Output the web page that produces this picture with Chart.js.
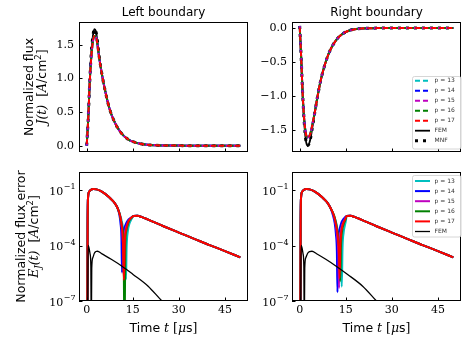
<!DOCTYPE html>
<html>
<head>
<meta charset="utf-8">
<script src="https://cdn.jsdelivr.net/npm/chart.js@4.4.1/dist/chart.umd.min.js"></script>
<style>
  body { margin: 0; background: #fff; }
  .wrap { position: relative; width: 462px; height: 339px; }
  .wrap canvas { position: absolute; left: 0; top: 0; }
</style>
</head>
<body>
<div class="wrap">
  <canvas id="fluxLeft" width="462" height="339"></canvas>
  <canvas id="fluxRight" width="462" height="339"></canvas>
  <canvas id="errLeft" width="462" height="339"></canvas>
  <canvas id="errRight" width="462" height="339"></canvas>
</div>
<script>
// ---- data -------------------------------------------------------------
const pLabels = ['p = 13', 'p = 14', 'p = 15', 'p = 16', 'p = 17'];
const pColors = ['#00bfbf', '#0000ff', '#bf00bf', '#008000', '#ff0000'];

const xTicks         = [0, 15, 30, 45];
const fluxLeftTicks  = [0, 0.5, 1.0, 1.5];
const fluxRightTicks = [-1.5, -1.0, -0.5, 0];
const errTicks       = [1e-7, 1e-4, 1e-1];

// normalized flux J(t)
const fluxT        = [0, 0.5, 1, 1.5, 2, 2.5, 3, 3.5, 4, 5, 6, 7, 8, 9, 10, 12, 14, 16, 18, 20, 25, 30, 35, 40, 45, 50];
const fluxLeftFEM  = [0, 0.4, 0.95, 1.38, 1.62, 1.73, 1.7, 1.55, 1.35, 1.05, 0.82, 0.62, 0.47, 0.36, 0.27, 0.15, 0.08, 0.045, 0.024, 0.012, 0.003, 0.001, 0, 0, 0, 0];
const fluxLeftP    = [0, 0.4, 0.95, 1.32, 1.54, 1.63, 1.62, 1.5, 1.33, 1.05, 0.82, 0.62, 0.47, 0.36, 0.27, 0.15, 0.08, 0.045, 0.024, 0.012, 0.003, 0.001, 0, 0, 0, 0];
const fluxRightFEM = [0.03, -0.45, -1.0, -1.4, -1.65, -1.73, -1.71, -1.63, -1.5, -1.22, -0.96, -0.74, -0.57, -0.43, -0.32, -0.17, -0.085, -0.04, -0.018, -0.008, -0.002, 0, 0, 0, 0, 0];
const fluxRightP   = [0.03, -0.45, -1.0, -1.36, -1.55, -1.61, -1.6, -1.55, -1.45, -1.22, -0.96, -0.74, -0.57, -0.43, -0.32, -0.17, -0.085, -0.04, -0.018, -0.008, -0.002, 0, 0, 0, 0, 0];

// flux error E_J(t): first lobe, dip near t = 12, second lobe / tail
const errLobeT = [0.2, 0.3, 0.45, 0.8, 1.3, 2.2, 3.2, 4.5, 6, 7.5, 9, 10];
const errLobeY = [1e-9, 1e-3, 4e-2, 8e-2, 1.0e-1, 1.12e-1, 1.08e-1, 9e-2, 6.2e-2, 3.8e-2, 2.1e-2, 1.1e-2];
const errTailT = [15.3, 16.5, 18, 20, 25, 30, 35, 40, 45, 50];
const errTailY = [3.9e-3, 4e-3, 3.4e-3, 2.5e-3, 1.1e-3, 5e-4, 2.3e-4, 1.05e-4, 5e-5, 2.3e-5];

const dipLeftT = [
  [10.9, 11.6, 12.2, 12.6, 12.8, 13.0, 13.4, 13.9, 14.6],
  [10.6, 11.0, 11.3, 11.5, 11.7, 12.1, 12.7, 13.4, 14.3],
  [10.8, 11.4, 11.8, 12.0, 12.2, 12.6, 13.1, 13.7, 14.4],
  [10.8, 11.5, 12.0, 12.3, 12.6, 12.9, 13.3, 13.8, 14.5],
  [10.8, 11.4, 11.8, 12.1, 12.4, 12.8, 13.2, 13.7, 14.4],
];
const dipLeftY = [
  [4.5e-3, 1.5e-3, 3e-4, 5e-5, 1.5e-6, 8e-5, 6e-4, 1.5e-3, 2.7e-3],
  [5e-3, 1.6e-3, 3e-4, 3.5e-6, 1.2e-4, 6.5e-4, 1.4e-3, 2.3e-3, 3.1e-3],
  [4.5e-3, 1.2e-3, 1.5e-4, 4e-6, 1.5e-4, 6.5e-4, 1.3e-3, 2.2e-3, 3.1e-3],
  [4.5e-3, 1.1e-3, 1.2e-4, 1e-9, 1.3e-4, 6e-4, 1.2e-3, 2.1e-3, 3e-3],
  [4.5e-3, 1.2e-3, 1.5e-4, 1.4e-6, 1.5e-4, 6.5e-4, 1.3e-3, 2.2e-3, 3.1e-3],
];
const dipRightT = [
  [11.2, 12.0, 12.7, 13.3, 13.7, 13.95, 14.3, 14.7, 15.0],
  [10.8, 11.4, 11.8, 12.1, 12.3, 12.5, 12.9, 13.5, 14.3],
  [11.0, 11.7, 12.2, 12.6, 12.8, 13.0, 13.4, 14.0, 14.7],
  [11.2, 11.9, 12.5, 12.95, 13.2, 13.45, 13.8, 14.3, 14.9],
  [11.1, 11.8, 12.4, 12.8, 13.0, 13.25, 13.6, 14.1, 14.8],
];
const dipRightY = [
  [4e-3, 1.4e-3, 2.5e-4, 3e-5, 6e-7, 8e-5, 5e-4, 1.2e-3, 2e-3],
  [4.5e-3, 1.6e-3, 4e-4, 5e-5, 3e-7, 1.2e-4, 6.5e-4, 1.6e-3, 2.8e-3],
  [4.5e-3, 1.5e-3, 3e-4, 3e-5, 5e-7, 1e-4, 6e-4, 1.5e-3, 2.6e-3],
  [4.2e-3, 1.4e-3, 3e-4, 3e-5, 1.2e-6, 1e-4, 6e-4, 1.4e-3, 2.5e-3],
  [4.3e-3, 1.4e-3, 3e-4, 3e-5, 1.7e-6, 1e-4, 6e-4, 1.5e-3, 2.6e-3],
];

const errLeftFEMT  = [0.3, 0.42, 0.5, 0.8, 1.1, 1.35, 1.5, 1.65, 2.0, 2.5, 3.0, 3.5, 5, 8, 11.6, 15, 20, 24.5, 28];
const errLeftFEM   = [1e-9, 1e-5, 1e-4, 7e-5, 3.5e-5, 8e-6, 1e-9, 6e-6, 2.2e-5, 3.8e-5, 4.7e-5, 4.9e-5, 3.5e-5, 1.8e-5, 7.4e-6, 2.8e-6, 6.3e-7, 1e-7, 3e-8];
const errRightFEMT = [0.3, 0.4, 0.5, 0.8, 1.1, 1.35, 1.5, 1.65, 2.0, 2.6, 3.2, 4.0, 5.5, 8.5, 12, 15.5, 20.5, 25, 28];
const errRightFEM  = [1e-9, 1e-5, 1e-4, 7e-5, 3.5e-5, 8e-6, 1e-9, 6e-6, 2.2e-5, 3.8e-5, 4.7e-5, 4.9e-5, 3.6e-5, 1.8e-5, 7.4e-6, 2.8e-6, 6.3e-7, 1e-7, 3e-8];

// ---- style ------------------------------------------------------------
const W = 462, H = 339;
const COLS = [[79, 248], [292, 461]];
const ROWS = [[22, 152], [172, 301]];
const AXIS_W = 40, AXIS_H = 20;
const SERIF = '"DejaVu Serif"';
const SANS  = '"DejaVu Sans"';
const F_TXT  = `12.5px ${SANS}`;
const F_MI   = `italic 12.5px ${SERIF}`;
const F_MR   = `12.5px ${SERIF}`;
const F_SUP  = `8.5px ${SANS}`;
const F_SUB  = `italic 8.5px ${SERIF}`;

function xy(ts, ys) { return ts.map((t, i) => ({ x: t, y: ys[i] })); }

function drawRuns(ctx, runs, x, y, angle) {
  ctx.save();
  ctx.translate(x, y);
  ctx.rotate(angle);
  let total = 0;
  for (const r of runs) { ctx.font = r.font; total += ctx.measureText(r.text).width; }
  let cx = -total / 2;
  ctx.textAlign = 'left';
  ctx.textBaseline = 'alphabetic';
  ctx.fillStyle = '#000';
  for (const r of runs) {
    ctx.font = r.font;
    ctx.fillText(r.text, cx, r.dy || 0);
    cx += ctx.measureText(r.text).width;
  }
  ctx.restore();
}

const unitRuns = [
  { text: '  [', font: F_MR }, { text: 'A', font: F_MI }, { text: '/', font: F_MR },
  { text: 'cm', font: F_TXT }, { text: '2', font: F_SUP, dy: -5 }, { text: ']', font: F_MR },
];
const timeRuns = [
  { text: 'Time ', font: F_TXT }, { text: 't', font: F_MI }, { text: ' [', font: F_MR },
  { text: 'μ', font: F_MI }, { text: 's', font: F_TXT }, { text: ']', font: F_MR },
];

const decor = {
  id: 'decor',
  afterDraw(chart, args, o) {
    const { ctx, chartArea: a, scales } = chart;
    ctx.save();
    ctx.strokeStyle = '#000';
    ctx.lineWidth = 1;
    ctx.strokeRect(a.left + 0.5, a.top + 0.5, a.right - a.left - 1, a.bottom - a.top - 1);

    // inward tick marks
    ctx.beginPath();
    for (const t of scales.x.ticks) {
      const px = Math.round(scales.x.getPixelForValue(t.value)) + 0.5;
      ctx.moveTo(px, a.bottom); ctx.lineTo(px, a.bottom - 3.5);
    }
    for (const t of scales.y.ticks) {
      const py = Math.round(scales.y.getPixelForValue(t.value)) + 0.5;
      ctx.moveTo(a.left, py); ctx.lineTo(a.left + 3.5, py);
    }
    ctx.stroke();

    // power-of-ten labels on the log axis
    if (o.logLabels) {
      ctx.fillStyle = '#000';
      ctx.textBaseline = 'alphabetic';
      ctx.textAlign = 'left';
      for (const t of scales.y.ticks) {
        const py = scales.y.getPixelForValue(t.value);
        const sup = '\u2212' + Math.round(-Math.log10(t.value));
        ctx.font = `11px ${SERIF}`;
        const w1 = ctx.measureText('10').width;
        ctx.font = `8px ${SERIF}`;
        const w2 = ctx.measureText(sup).width;
        const x0 = a.left - 4 - w1 - w2;
        ctx.font = `11px ${SERIF}`;
        ctx.fillText('10', x0, py + 4.5);
        ctx.font = `8px ${SERIF}`;
        ctx.fillText(sup, x0 + w1 + 0.5, py - 1);
      }
    }

    if (o.title) {
      ctx.font = `12px ${SANS}`;
      ctx.fillStyle = '#000';
      ctx.textAlign = 'center';
      ctx.textBaseline = 'alphabetic';
      ctx.fillText(o.title, (a.left + a.right) / 2, 15.5);
    }
    const cy = (a.top + a.bottom) / 2;
    for (const line of o.yLabel || []) drawRuns(ctx, line.runs, line.x, cy, -Math.PI / 2);
    if (o.xLabel) drawRuns(ctx, timeRuns, (a.left + a.right) / 2, 332, 0);

    if (o.legend) {
      const L = o.legend;
      ctx.fillStyle = 'rgba(255,255,255,0.85)';
      ctx.strokeStyle = '#cccccc';
      ctx.lineWidth = 0.8;
      ctx.beginPath();
      ctx.roundRect(L.x + 0.5, L.y + 0.5, L.w, L.h, 2);
      ctx.fill();
      ctx.stroke();
      chart.data.datasets.forEach((ds, i) => {
        const y = L.row0 + i * L.rowH;
        ctx.strokeStyle = ds.borderColor;
        ctx.lineWidth = ds.borderWidth;
        ctx.setLineDash(ds.borderDash || []);
        ctx.lineDashOffset = 0;
        ctx.beginPath();
        ctx.moveTo(L.x + 3, y); ctx.lineTo(L.x + 18, y);
        ctx.stroke();
        ctx.setLineDash([]);
        ctx.fillStyle = '#333';
        ctx.font = `6px ${SANS}`;
        ctx.textAlign = 'left';
        ctx.textBaseline = 'middle';
        ctx.fillText(ds.label, L.x + 22.5, y);
      });
    }
    ctx.restore();
  },
};

function fluxSets(pY, femY) {
  const sets = pLabels.map((lab, i) => ({
    label: lab, data: xy(fluxT, pY), borderColor: pColors[i], borderWidth: 2,
    borderDash: [5, 3], borderDashOffset: i * 1.6, order: 4 - i,
  }));
  sets.push({ label: 'FEM', data: xy(fluxT, femY), borderColor: '#000', borderWidth: 1.8, order: 6 });
  sets.push({ label: 'MNF', data: xy(fluxT, femY), borderColor: '#000', borderWidth: 3,
              borderDash: [3, 5], borderCapStyle: 'butt', order: 5 });
  return sets;
}

function errSets(dipT, dipY, femT, femY) {
  const sets = pLabels.map((lab, i) => ({
    label: lab,
    data: xy(errLobeT.concat(dipT[i], errTailT), errLobeY.concat(dipY[i], errTailY)),
    borderColor: pColors[i], borderWidth: 2, order: 5 - i,
  }));
  sets.push({ label: 'FEM', data: xy(femT, femY), borderColor: '#000', borderWidth: 1.3, order: 0 });
  return sets;
}

function makePanel(id, col, row, yScale, datasets, showX, decorOpts) {
  const [l, r] = COLS[col], [t, b] = ROWS[row];
  return new Chart(document.getElementById(id), {
    type: 'line',
    data: { datasets },
    options: {
      responsive: false,
      animation: false,
      devicePixelRatio: 1,
      layout: { padding: { left: l - AXIS_W, right: W - r, top: t, bottom: H - b - AXIS_H } },
      elements: {
        point: { radius: 0 },
        line: { cubicInterpolationMode: 'monotone', fill: false },
      },
      plugins: { legend: { display: false }, tooltip: { enabled: false }, decor: decorOpts },
      scales: {
        x: {
          type: 'linear', min: -2.5, max: 52.5,
          grid: { display: false, drawTicks: false },
          border: { display: false },
          afterBuildTicks: s => { s.ticks = xTicks.map(v => ({ value: v })); },
          afterFit: s => { s.height = AXIS_H; },
          ticks: { display: showX, padding: 3, color: '#000', maxRotation: 0, autoSkip: false,
                   font: { family: 'DejaVu Serif', size: 11 } },
        },
        y: Object.assign({
          grid: { display: false, drawTicks: false },
          border: { display: false },
          afterFit: s => { s.width = AXIS_W; },
        }, yScale),
      },
    },
    plugins: [decor],
  });
}

const linTicks = { padding: 5, color: '#000', autoSkip: false, font: { family: 'DejaVu Serif', size: 11 },
                   callback: v => v.toFixed(1).replace('-', '\u2212') };

makePanel('fluxLeft', 0, 0, {
  type: 'linear', min: -0.094, max: 1.837,
  afterBuildTicks: s => { s.ticks = fluxLeftTicks.map(v => ({ value: v })); },
  ticks: linTicks,
}, fluxSets(fluxLeftP, fluxLeftFEM), false, {
  title: 'Left boundary',
  yLabel: [
    { x: 32.5, runs: [{ text: 'Normalized flux', font: F_TXT }] },
    { x: 45.5, runs: [{ text: 'J(t)', font: F_MI }].concat(unitRuns) },
  ],
});

makePanel('fluxRight', 1, 0, {
  type: 'linear', min: -1.824, max: 0.088,
  afterBuildTicks: s => { s.ticks = fluxRightTicks.map(v => ({ value: v })); },
  ticks: linTicks,
}, fluxSets(fluxRightP, fluxRightFEM), false, {
  title: 'Right boundary',
  legend: { x: 412, y: 76, w: 48.5, h: 72.5, row0: 80.7, rowH: 10 },
});

const logY = {
  type: 'logarithmic', min: 1e-7, max: 0.94,
  afterBuildTicks: s => { s.ticks = errTicks.map(v => ({ value: v })); },
  ticks: { display: false },
};

makePanel('errLeft', 0, 1, logY, errSets(dipLeftT, dipLeftY, errLeftFEMT, errLeftFEM), true, {
  logLabels: true,
  xLabel: true,
  yLabel: [
    { x: 24.5, runs: [{ text: 'Normalized flux error', font: F_TXT }] },
    { x: 37.5, runs: [{ text: 'E', font: F_MI }, { text: 'J', font: F_SUB, dy: 3 }, { text: '(t)', font: F_MI }].concat(unitRuns) },
  ],
});

makePanel('errRight', 1, 1, logY, errSets(dipRightT, dipRightY, errRightFEMT, errRightFEM), true, {
  logLabels: true,
  xLabel: true,
  legend: { x: 412, y: 175, w: 48.5, h: 61.5, row0: 181, rowH: 10.1 },
});
</script>
</body>
</html>
